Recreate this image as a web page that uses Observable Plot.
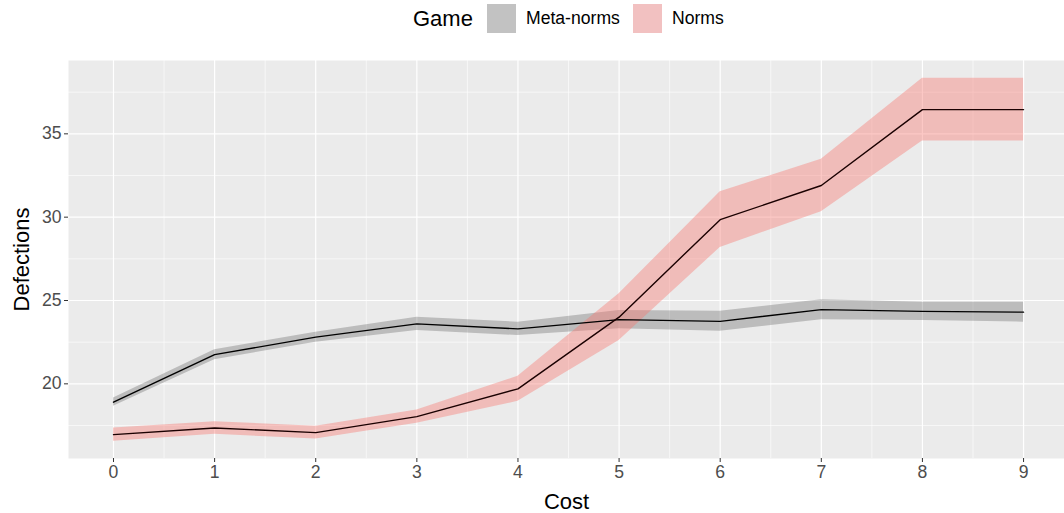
<!DOCTYPE html>
<html>
<head>
<meta charset="utf-8">
<script src="https://cdn.jsdelivr.net/npm/d3@7"></script>
<script src="https://cdn.jsdelivr.net/npm/@observablehq/plot@0.6"></script>
<style>
  body { margin: 0; background: #fff; font-family: "Liberation Sans", Arial, sans-serif; }
  #wrap { position: relative; width: 1064px; height: 513px; }
  #legend { position: relative; width: 1064px; height: 40px; }
  #legend .t { position: absolute; white-space: nowrap; color: #000; line-height: 1; }
  #legend .sw { position: absolute; width: 29px; height: 29px; top: 4px; }
</style>
</head>
<body>
<div id="wrap">
  <div id="legend">
    <span class="t" style="left:413px; top:8px; font-size:22px;">Game</span>
    <span class="sw" style="left:487px; background:#c2c2c2;"></span>
    <span class="t" style="left:526px; top:10px; font-size:17.6px;">Meta-norms</span>
    <span class="sw" style="left:633px; background:#f2c1c1;"></span>
    <span class="t" style="left:672px; top:10px; font-size:17.6px;">Norms</span>
  </div>
  <div id="chart"></div>
</div>
<script>
const cost = [0, 1, 2, 3, 4, 5, 6, 7, 8, 9];
const metaMean = [18.9, 21.75, 22.8, 23.6, 23.3, 23.85, 23.75, 24.45, 24.35, 24.3];
const metaErr  = [0.25, 0.3, 0.3, 0.4, 0.4, 0.55, 0.6, 0.6, 0.55, 0.6];
const normsMean = [16.95, 17.35, 17.07, 18.03, 19.7, 24.0, 29.85, 31.9, 36.45, 36.45];
const normsErr  = [0.4, 0.38, 0.38, 0.4, 0.75, 1.4, 1.67, 1.57, 1.88, 1.88];
const xTicks = [0, 1, 2, 3, 4, 5, 6, 7, 8, 9];
const xMinor = [0.5, 1.5, 2.5, 3.5, 4.5, 5.5, 6.5, 7.5, 8.5];
const yTicks = [20, 25, 30, 35];
const yMinor = [17.5, 22.5, 27.5, 32.5, 37.5];

const meta = cost.map((c, i) => ({cost: c, y: metaMean[i], lo: metaMean[i] - metaErr[i], hi: metaMean[i] + metaErr[i]}));
const norms = cost.map((c, i) => ({cost: c, y: normsMean[i], lo: normsMean[i] - normsErr[i], hi: normsMean[i] + normsErr[i]}));

const chart = Plot.plot({
  width: 1064,
  height: 473,
  marginLeft: 68,
  marginRight: 0,
  marginTop: 20,
  marginBottom: 55,
  style: {fontFamily: '"Liberation Sans", Arial, sans-serif', background: "transparent"},
  x: {domain: [-0.445, 9.405], axis: null},
  y: {domain: [15.52, 39.4], axis: null},
  marks: [
    Plot.frame({fill: "#ebebeb", stroke: null}),
    Plot.ruleX(xMinor, {stroke: "#fff", strokeWidth: 0.6}),
    Plot.ruleY(yMinor, {stroke: "#fff", strokeWidth: 0.6}),
    Plot.ruleX(xTicks, {stroke: "#fff", strokeWidth: 1.2}),
    Plot.ruleY(yTicks, {stroke: "#fff", strokeWidth: 1.2}),
    Plot.areaY(meta, {x: "cost", y1: "lo", y2: "hi", fill: "#000", fillOpacity: 0.2}),
    Plot.areaY(norms, {x: "cost", y1: "lo", y2: "hi", fill: "#F8766D", fillOpacity: 0.4}),
    Plot.lineY(meta, {x: "cost", y: "y", stroke: "#000", strokeWidth: 1.4}),
    Plot.lineY(norms, {x: "cost", y: "y", stroke: "#1a0000", strokeWidth: 1.4}),
    Plot.axisX({ticks: xTicks, tickSize: 4, tickPadding: 3, stroke: "#333", fill: "#4d4d4d", fontSize: 17.6, label: null, tickFormat: d => String(d)}),
    Plot.axisY({ticks: yTicks, tickSize: 4, tickPadding: 3, stroke: "#333", fill: "#4d4d4d", fontSize: 17.6, label: null}),
    Plot.text(["Cost"], {frameAnchor: "bottom", dy: 50, fontSize: 22, fill: "#000", textAnchor: "middle"}),
    Plot.text(["Defections"], {frameAnchor: "left", dx: -47, rotate: -90, fontSize: 22, fill: "#000", textAnchor: "middle"})
  ]
});
document.getElementById("chart").appendChild(chart);
</script>
</body>
</html>
